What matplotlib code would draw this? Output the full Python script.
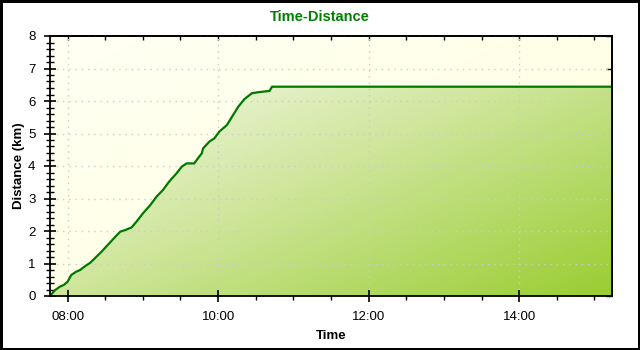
import matplotlib
matplotlib.use("Agg")
import matplotlib.pyplot as plt
import numpy as np
from matplotlib.ticker import FuncFormatter, MultipleLocator
from matplotlib.colors import LinearSegmentedColormap

plt.rcParams['font.family'] = ['Liberation Sans', 'DejaVu Sans']

title = "Time-Distance"
x_label = "Time"
y_label = "Distance (km)"

times = ["07:46", "07:50", "07:54", "07:57", "08:00", "08:03", "08:07", "08:10",
         "08:14", "08:18", "08:22", "08:27", "08:32", "08:38", "08:42", "08:46",
         "08:51", "08:55", "09:00", "09:06", "09:11", "09:16", "09:21", "09:27",
         "09:31", "09:35", "09:41", "09:44", "09:47", "09:48", "09:53", "09:57",
         "10:01", "10:07", "10:12", "10:16", "10:21", "10:27", "10:32", "10:41",
         "10:43", "15:14"]
distance_km = [0.0, 0.18, 0.29, 0.34, 0.44, 0.65, 0.75, 0.80,
               0.92, 1.02, 1.17, 1.36, 1.57, 1.82, 1.98, 2.03,
               2.11, 2.29, 2.54, 2.80, 3.06, 3.26, 3.52, 3.78,
               3.98, 4.08, 4.08, 4.24, 4.39, 4.54, 4.75, 4.85,
               5.06, 5.26, 5.57, 5.82, 6.06, 6.24, 6.27, 6.31,
               6.44, 6.44]
x_tick_labels = ["08:00", "10:00", "12:00", "14:00"]
y_ticks = [0, 1, 2, 3, 4, 5, 6, 7, 8]


def to_hours(s):
    h, m = s.split(":")
    return int(h) + int(m) / 60.0


x = np.array([to_hours(t) for t in times])
y = np.array(distance_km)
xt = [to_hours(t) for t in x_tick_labels]

fig = plt.figure(figsize=(6.4, 3.5), dpi=100)
fig.patch.set_facecolor('white')
fig.patch.set_edgecolor('black')
fig.patch.set_linewidth(2.2)

ax = fig.add_axes([50 / 640, 1 - 296 / 350, (612 - 50) / 640, (296 - 36) / 350])
x0, x1 = x.min(), x.max()
y0, y1 = y_ticks[0], y_ticks[-1]
ax.set_xlim(x0, x1)
ax.set_ylim(y0, y1)

# background gradient (light yellow)
gx, gy = np.meshgrid(np.linspace(0, 1, 200), np.linspace(0, 1, 120))
tb = (gx + gy) / 2
bg_cmap = LinearSegmentedColormap.from_list("bg", ["#fffff4", "#ffffdc"])
ax.imshow(tb, extent=[x0, x1, y0, y1], origin='upper', aspect='auto',
          cmap=bg_cmap, zorder=0, interpolation='bilinear')

# fill gradient
fill_cmap = LinearSegmentedColormap.from_list("fg", ["#ffffff", "#cfe69c", "#9acd32"])
im = ax.imshow(tb, extent=[x0, x1, y0, y1], origin='upper', aspect='auto',
               cmap=fill_cmap, zorder=1, interpolation='bilinear')
poly = ax.fill_between(x, y, y0, facecolor='none', edgecolor='none', zorder=1)
im.set_clip_path(poly.get_paths()[0], transform=ax.transData)

ax.plot(x, y, color='#007800', lw=1.6, zorder=3)

ax.grid(True, which='major', color='#cccccc', linestyle=(0, (1, 3.5)), lw=1)
for gl in ax.get_xgridlines() + ax.get_ygridlines():
    gl.set_zorder(0.5)

ax.set_xticks(xt)
ax.xaxis.set_major_formatter(FuncFormatter(lambda v, p: "%02d:%02d" % (int(v), round((v - int(v)) * 60))))
ax.xaxis.set_minor_locator(MultipleLocator(0.5))
ax.set_yticks(y_ticks)
ax.yaxis.set_minor_locator(MultipleLocator(0.2))

ax.tick_params(axis='x', which='major', direction='inout', length=9, width=1.2,
               labelsize=9.5, pad=6, colors='black')
ax.tick_params(axis='x', which='minor', direction='out', length=3, width=1)
ax.tick_params(axis='y', which='major', direction='inout', length=9, width=1.2,
               labelsize=9.5, pad=6)
ax.tick_params(axis='y', which='minor', direction='inout', length=6, width=1)

for s in ax.spines.values():
    s.set_linewidth(1.3)
    s.set_zorder(4)

sec_x = ax.secondary_xaxis('top')
sec_x.xaxis.set_major_locator(MultipleLocator(0.5))
sec_x.tick_params(direction='in', length=3, width=1, labeltop=False)
sec_x.spines['top'].set_linewidth(1.3)
sec_y = ax.secondary_yaxis('right')
sec_y.set_yticks(y_ticks)
sec_y.tick_params(direction='in', length=4, width=1, labelright=False)
sec_y.spines['right'].set_linewidth(1.3)

ax.set_xlabel(x_label, fontsize=9.5, fontweight='bold', labelpad=5)
ax.set_ylabel(y_label, fontsize=9.5, fontweight='bold', labelpad=2)
fig.text(0.5, 1 - 17 / 350, title, ha='center', va='center', fontsize=10.5,
         fontweight='bold', color='#008000')

fig.savefig("out.png", dpi=100, facecolor=fig.get_facecolor(), edgecolor=fig.get_edgecolor())
